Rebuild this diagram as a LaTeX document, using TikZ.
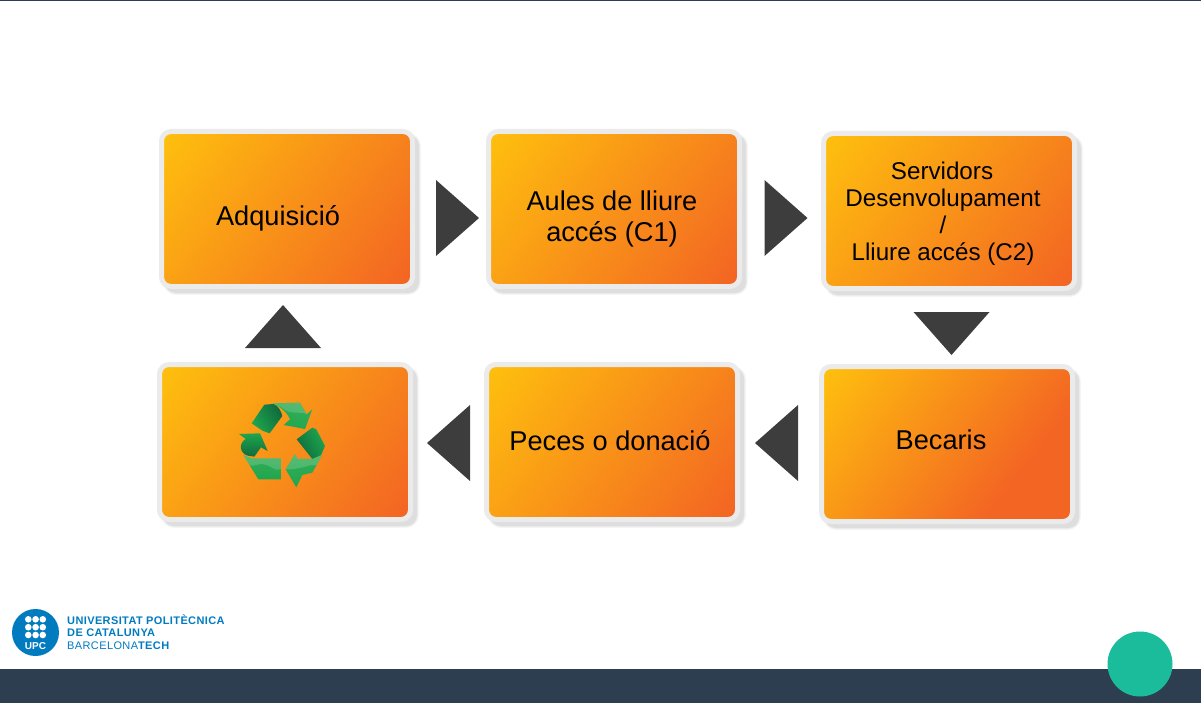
\documentclass[tikz,border=0pt]{standalone}
\usepackage{fontspec}
\setmainfont{Liberation Sans}
\usetikzlibrary{shapes.geometric,shadows}
\definecolor{bandblue}{HTML}{2C3E50}
\definecolor{tealdot}{HTML}{1ABC9C}
\definecolor{framegrey}{HTML}{EBEBEB}
\definecolor{arrowgrey}{HTML}{3D3D3D}
\definecolor{upcblue}{HTML}{007BC0}
\definecolor{gdark}{HTML}{0F6B3C}
\definecolor{gmid}{HTML}{1FA64F}
\definecolor{glight}{HTML}{6CBF6A}
\pgfdeclarehorizontalshading{orangeA}{100bp}{rgb(0bp)=(0.996,0.745,0.055); rgb(17bp)=(0.996,0.745,0.055); rgb(83bp)=(0.953,0.396,0.137); rgb(100bp)=(0.953,0.396,0.137)}
\pgfdeclarehorizontalshading{orangeB}{100bp}{rgb(0bp)=(0.996,0.745,0.055); rgb(17bp)=(0.996,0.745,0.055); rgb(68bp)=(0.953,0.396,0.137); rgb(100bp)=(0.953,0.396,0.137)}
\tikzset{
  x=1pt,y=-1pt,
  softshadow/.style={
    general shadow={shadow xshift=5pt,shadow yshift=-5pt,draw=black!3,line width=7pt,fill=black!3},
    general shadow={shadow xshift=5pt,shadow yshift=-5pt,draw=black!7,line width=5pt,fill=black!7},
    general shadow={shadow xshift=5pt,shadow yshift=-5pt,draw=black!13,line width=3pt,fill=black!13}},
  orangebox/.style={rectangle,rounded corners=9.5pt,minimum width=251pt,minimum height=155pt,inner sep=0pt,
    draw=framegrey,line width=5pt,softshadow,shading angle=-38},
  boxlabel/.style={anchor=base,inner sep=0pt,font=\fontsize{27.2}{27}\selectfont,text=black},
  smalllabel/.style={anchor=base,inner sep=0pt,font=\fontsize{24.2}{24}\selectfont,text=black},
  tri/.style={isosceles triangle,isosceles triangle apex angle=83,isosceles triangle stretches,
    minimum height=43pt,minimum width=76pt,inner sep=0pt,outer sep=0pt,fill=arrowgrey,draw=none,anchor=lower side},
  leaf/.style={shade,draw=none},
  gloss/.style={fill=white,fill opacity=0.16,draw=none},
  logotext/.style={anchor=base west,inner sep=0pt,text=upcblue,font=\fontsize{11}{11}\selectfont},
}
\newfontfamily\logobold[LetterSpace=3.5]{Liberation Sans Bold}
\newfontfamily\logoreg[LetterSpace=3.5]{Liberation Sans}
\begin{document}
\begin{tikzpicture}
\useasboundingbox (0,0) rectangle (1201,703);
% frame elements
\fill[bandblue] (0,0) rectangle (1201,1);
\fill[bandblue] (0,669) rectangle (1201,703);
\node[circle,fill=tealdot,minimum size=65pt,inner sep=0pt] (dot) at (1140,664) {};
% boxes
\node[orangebox,shading=orangeA] (b1) at (287,209) {};
\node[orangebox,shading=orangeA] (b2) at (614,209) {};
\node[orangebox,shading=orangeA] (b3) at (949,211) {};
\node[orangebox,shading=orangeB] (b4) at (947,444) {};
\node[orangebox,shading=orangeA] (b5) at (612,442) {};
\node[orangebox,shading=orangeA] (b6) at (285,442) {};
% labels
\node[boxlabel] (t1) at (278,226) {Adquisició};
\node[boxlabel] (t2a) at (612,211) {Aules de lliure};
\node[boxlabel] (t2b) at (612,241.5) {accés (C1)};
\node[smalllabel] (t3a) at (942,179.7) {Servidors};
\node[smalllabel] (t3b) at (943,206.7) {Desenvolupament};
\node[smalllabel] (t3c) at (943,233.7) {/};
\node[smalllabel] (t3d) at (943,260.5) {Lliure accés (C2)};
\node[boxlabel] (t4) at (941,449) {Becaris};
\node[boxlabel] (t5) at (610,450) {Peces o donació};
% arrows
\node[tri,shape border rotate=0] (a1) at (436,218) {};
\node[tri,shape border rotate=0] (a2) at (764.5,218) {};
\node[tri,shape border rotate=-90] (a3) at (951.5,312) {};
\node[tri,shape border rotate=180] (a4) at (798,443) {};
\node[tri,shape border rotate=180] (a5) at (470,443) {};
\node[tri,shape border rotate=90] (a6) at (283,348) {};
% recycling symbol
\begin{scope}[shift={(225,390)},x=0.3333pt,y=-0.3333pt]
  % top-left bar
  \shade[leaf,left color=gdark,right color=gmid,shading angle=-60] (118,44) -- (146,42) .. controls (160,48) and (168,62) .. (172,78) -- (134,130) -- (112,122) -- (80,100) -- cycle;
  % top arrow
  \shade[leaf,top color=gmid!70!glight,bottom color=gmid,shading angle=-20] (142,40) -- (225,38) -- (245,73) -- (262,58) -- (240,117) -- (176,105) -- (195,88) .. controls (185,65) and (165,50) .. cycle;
  \fill[gloss] (142,40) -- (225,38) -- (245,73) .. controls (225,62) and (205,75) .. (180,60) .. controls (170,52) and (155,45) .. cycle;
  % right bar
  \shade[leaf,left color=gmid,right color=gdark,shading angle=-60] (262,113) -- (274,118) -- (300,168) -- (286,200) -- (262,207) -- (215,148) -- cycle;
  % right-bottom arrow
  \shade[leaf,top color=gmid!70!glight,bottom color=gmid] (292,194) -- (262,248) -- (232,255) -- (214,292) -- (182,238) -- (210,192) -- (218,207) -- (262,207) -- cycle;
  \fill[gloss] (292,194) -- (275,225) .. controls (255,222) and (235,235) .. (196,238) -- (182,238) -- (210,192) -- (218,207) -- (262,207) -- cycle;
  % bottom-left bar
  \shade[leaf,top color=gmid!70!glight,bottom color=gmid] (55,195) -- (80,205) -- (168,205) -- (168,268) -- (100,268) -- cycle;
  \fill[gloss] (55,195) -- (80,205) -- (168,205) -- (168,238) .. controls (150,245) and (135,225) .. (115,222) .. controls (100,220) and (85,232) .. (73,225) -- cycle;
  % left arrow
  \shade[leaf,top color=gmid,bottom color=gdark] (42,132) -- (105,130) -- (128,183) -- (108,172) -- (88,200) -- (68,197) .. controls (44,190) and (40,160) .. (62,147) -- cycle;
\end{scope}
% logo
\node[circle,fill=upcblue,minimum size=47pt,inner sep=0pt] (logo) at (35.5,632.5) {};
\foreach \px in {28.3,35.6,42.8}{\foreach \py in {619.3,627.2,635}{
  \fill[white] (\px,\py) circle (3.3);}}
\node[anchor=base,inner sep=0pt,text=white,font=\bfseries\fontsize{10}{10}\selectfont] (upc) at (35.5,649.5) {UPC};
\node[logotext,font=\logobold\fontsize{11}{11}\selectfont] (l1) at (67,624) {UNIVERSITAT POLITÈCNICA};
\node[logotext,font=\logobold\fontsize{11}{11}\selectfont] (l2) at (67,636.5) {DE CATALUNYA};
\node[logotext,font=\logoreg\fontsize{11}{11}\selectfont] (l3) at (67,649) {BARCELONA{\logobold TECH}};
\end{tikzpicture}
\end{document}
